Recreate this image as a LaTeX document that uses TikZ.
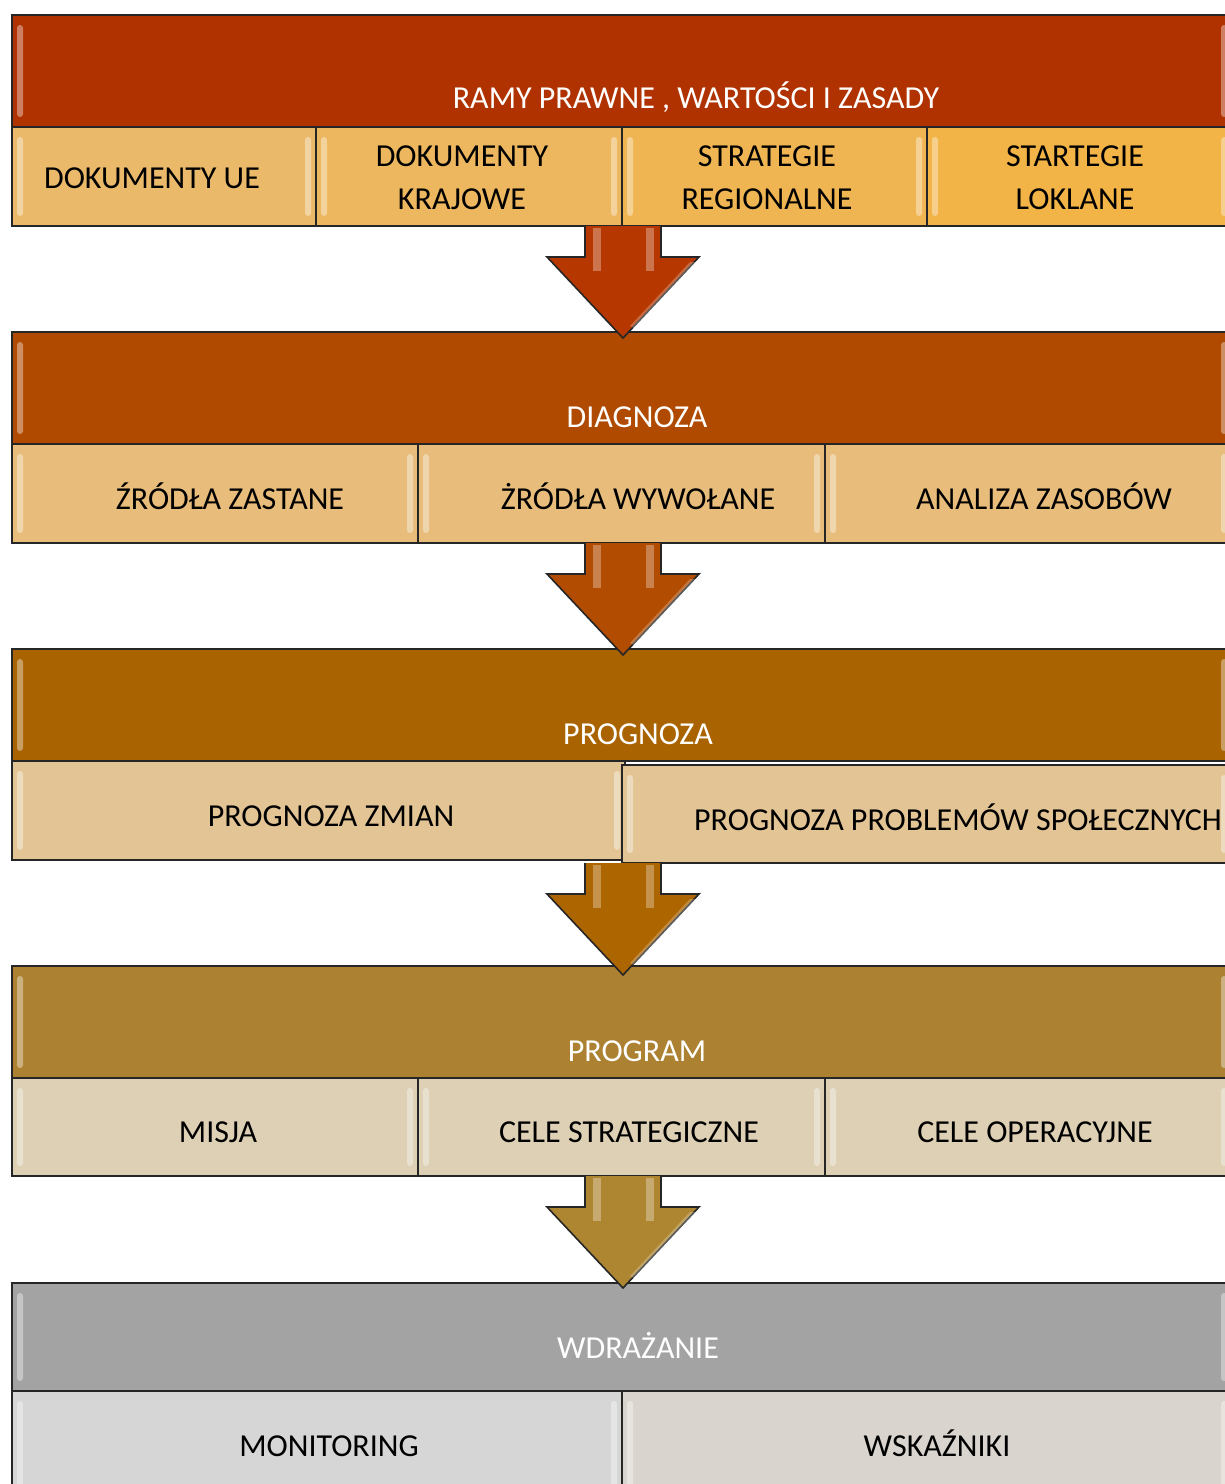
\documentclass[tikz,border=0pt]{standalone}
\usepackage{fontspec}
\setmainfont{Carlito}
\begin{document}
\begin{tikzpicture}[x=1pt,y=-1pt,
  box/.style={draw=black!85,line width=1.6pt,anchor=north west,inner sep=0pt,outer sep=0pt},
  hdtxt/.style={text=white,font=\fontsize{32}{38}\selectfont,inner sep=0pt,anchor=base},
  subtxt/.style={text=black,font=\fontsize{32}{43}\selectfont,inner sep=0pt,align=center},
  subline/.style={text=black,font=\fontsize{32}{38}\selectfont,inner sep=0pt,anchor=base},
  shine/.style={fill=white,opacity=0.38,draw=none,rounded corners=3pt},
  arr/.style={draw=black!85,line width=1.6pt,line join=miter}]
\useasboundingbox (0,0) rectangle (1225,1484);
\clip (0,0) rectangle (1225,1484);
\definecolor{hA}{HTML}{B03200}
\definecolor{hB}{HTML}{B04A00}
\definecolor{hC}{HTML}{A96300}
\definecolor{hD}{HTML}{AC8232}
\definecolor{hE}{HTML}{A3A3A3}
\definecolor{sA1}{HTML}{EBB96A}
\definecolor{sA2}{HTML}{EDB75F}
\definecolor{sA3}{HTML}{F0B553}
\definecolor{sA4}{HTML}{F2B347}
\definecolor{sB}{HTML}{E8BD7B}
\definecolor{sC}{HTML}{E3C595}
\definecolor{sD}{HTML}{DDD0B4}
\definecolor{sE1}{HTML}{D6D6D6}
\definecolor{sE2}{HTML}{D9D5CE}
\definecolor{aA}{HTML}{B63800}
\definecolor{aB}{HTML}{B24C00}
\definecolor{aC}{HTML}{AD6500}
\definecolor{aD}{HTML}{AE8632}
\newcommand{\shinebox}[4]{%
  \fill[shine] (#1+5,#2+10) rectangle (#1+11,#4-10);
  \fill[shine] (#3-11,#2+10) rectangle (#3-5,#4-10);}
\newcommand{\arrowat}[2]{%
  \draw[arr,fill=#2] (585,#1) -- (585,#1+31) -- (547,#1+31) -- (623,#1+112)
     -- (699,#1+31) -- (661,#1+31) -- (661,#1) ;
  \fill[white,opacity=0.30] (593,#1+2) rectangle (601,#1+45);
  \fill[white,opacity=0.30] (646,#1+2) rectangle (654,#1+45);
  \fill[white,opacity=0.25] (630,#1+100) -- (690,#1+36) -- (695,#1+36) -- (634,#1+102) -- cycle;}

% ---------- Section 1
\node[box,fill=hA,minimum width=1220,minimum height=112] (h1) at (12,15) {};
\shinebox{12}{15}{1232}{127}
\node[hdtxt] (h1t) at (696,108) {RAMY PRAWNE , WARTOŚCI I ZASADY};
\node[box,fill=sA1,minimum width=304,minimum height=99] (s11) at (12,127) {};
\node[box,fill=sA2,minimum width=306,minimum height=99] (s12) at (316,127) {};
\node[box,fill=sA3,minimum width=305,minimum height=99] (s13) at (622,127) {};
\node[box,fill=sA4,minimum width=305,minimum height=99] (s14) at (927,127) {};
\shinebox{12}{127}{316}{226}\shinebox{316}{127}{622}{226}\shinebox{622}{127}{927}{226}\shinebox{927}{127}{1232}{226}
\node[subline] (t11) at (152,188) {DOKUMENTY UE};
\node[subtxt] (t12) at (462,178) {DOKUMENTY\\KRAJOWE};
\node[subtxt] (t13) at (767,178) {STRATEGIE\\REGIONALNE};
\node[subtxt] (t14) at (1075,178) {STARTEGIE\\LOKLANE};

% ---------- Section 2
\node[box,fill=hB,minimum width=1220,minimum height=112] (h2) at (12,332) {};
\shinebox{12}{332}{1232}{444}
\node[hdtxt] (h2t) at (637,427) {DIAGNOZA};
\node[box,fill=sB,minimum width=406,minimum height=99] (s21) at (12,444) {};
\node[box,fill=sB,minimum width=407,minimum height=99] (s22) at (418,444) {};
\node[box,fill=sB,minimum width=407,minimum height=99] (s23) at (825,444) {};
\shinebox{12}{444}{418}{543}\shinebox{418}{444}{825}{543}\shinebox{825}{444}{1232}{543}
\node[subline] (t21) at (230,509) {ŹRÓDŁA ZASTANE};
\node[subline] (t22) at (638,509) {ŻRÓDŁA WYWOŁANE};
\node[subline] (t23) at (1044,509) {ANALIZA ZASOBÓW};

% ---------- Section 3
\node[box,fill=hC,minimum width=1220,minimum height=112] (h3) at (12,649) {};
\shinebox{12}{649}{1232}{761}
\node[hdtxt] (h3t) at (638,744) {PROGNOZA};
\node[box,fill=sC,minimum width=613,minimum height=99] (s31) at (12,761) {};
\shinebox{12}{761}{625}{860}
\node[box,fill=sC,minimum width=610,minimum height=98] (s32) at (622,765) {};
\shinebox{622}{765}{1232}{863}
\node[subline] (t31) at (331,826) {PROGNOZA ZMIAN};
\node[subline] (t32) at (958,830) {PROGNOZA PROBLEMÓW SPOŁECZNYCH};

% ---------- Section 4
\node[box,fill=hD,minimum width=1220,minimum height=112] (h4) at (12,966) {};
\shinebox{12}{966}{1232}{1078}
\node[hdtxt] (h4t) at (637,1061) {PROGRAM};
\node[box,fill=sD,minimum width=406,minimum height=98] (s41) at (12,1078) {};
\node[box,fill=sD,minimum width=407,minimum height=98] (s42) at (418,1078) {};
\node[box,fill=sD,minimum width=407,minimum height=98] (s43) at (825,1078) {};
\shinebox{12}{1078}{418}{1176}\shinebox{418}{1078}{825}{1176}\shinebox{825}{1078}{1232}{1176}
\node[subline] (t41) at (218,1142) {MISJA};
\node[subline] (t42) at (629,1142) {CELE STRATEGICZNE};
\node[subline] (t43) at (1035,1142) {CELE OPERACYJNE};

% ---------- Section 5
\node[box,fill=hE,minimum width=1220,minimum height=108] (h5) at (12,1283) {};
\shinebox{12}{1283}{1232}{1391}
\node[hdtxt] (h5t) at (638,1358) {WDRAŻANIE};
\node[box,fill=sE1,minimum width=610,minimum height=110] (s51) at (12,1391) {};
\node[box,fill=sE2,minimum width=610,minimum height=110] (s52) at (622,1391) {};
\shinebox{12}{1391}{622}{1520}\shinebox{622}{1391}{1232}{1520}
\node[subline] (t51) at (329,1456) {MONITORING};
\node[subline] (t52) at (937,1456) {WSKAŹNIKI};

% ---------- Arrows
\arrowat{226}{aA}
\arrowat{543}{aB}
\arrowat{863}{aC}
\arrowat{1176}{aD}
\end{tikzpicture}
\end{document}
